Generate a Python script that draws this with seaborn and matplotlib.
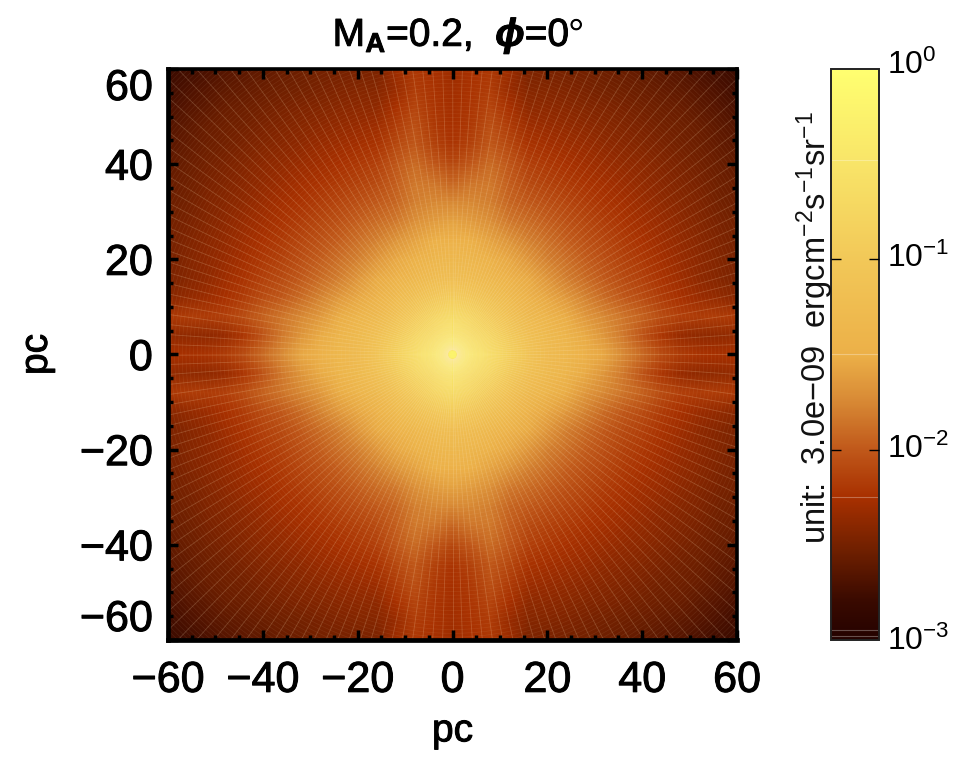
import numpy as np
import matplotlib
matplotlib.use('Agg')
import matplotlib.pyplot as plt
import matplotlib.patheffects as pe
from matplotlib.colors import LinearSegmentedColormap
from matplotlib.transforms import ScaledTranslation
import seaborn as sns

sns.set_theme(style='white')
plt.rcParams['font.family'] = ['Liberation Sans', 'DejaVu Sans']
plt.rcParams['mathtext.fontset'] = 'custom'
plt.rcParams['mathtext.rm'] = 'Liberation Sans'
plt.rcParams['mathtext.it'] = 'Liberation Sans:italic:bold'
plt.rcParams['mathtext.bf'] = 'Liberation Sans:bold'

# log10 of intensity, upper left quadrant, one row per y = 60, 56 ... 0, one column per x = -60, -56 ... 0
row_y60 = [-2.78, -2.75, -2.71, -2.66, -2.63, -2.60, -2.56, -2.54, -2.51, -2.50, -2.48, -2.47, -2.30, -2.20, -2.25, -2.30]
row_y56 = [-2.75, -2.70, -2.65, -2.61, -2.58, -2.55, -2.53, -2.51, -2.48, -2.45, -2.43, -2.42, -2.33, -2.17, -2.23, -2.28]
row_y52 = [-2.71, -2.65, -2.61, -2.56, -2.54, -2.51, -2.48, -2.45, -2.43, -2.40, -2.38, -2.37, -2.25, -2.12, -2.21, -2.27]
row_y48 = [-2.66, -2.61, -2.56, -2.53, -2.51, -2.47, -2.44, -2.41, -2.38, -2.35, -2.33, -2.30, -2.17, -2.05, -2.19, -2.25]
row_y44 = [-2.63, -2.58, -2.54, -2.51, -2.47, -2.43, -2.40, -2.37, -2.33, -2.30, -2.27, -2.23, -2.10, -2.00, -2.13, -2.22]
row_y40 = [-2.60, -2.55, -2.51, -2.47, -2.43, -2.39, -2.36, -2.32, -2.28, -2.24, -2.20, -2.15, -2.01, -1.90, -2.00, -2.10]
row_y36 = [-2.56, -2.53, -2.48, -2.44, -2.40, -2.36, -2.31, -2.27, -2.23, -2.19, -2.14, -2.09, -1.97, -1.83, -1.85, -1.93]
row_y32 = [-2.54, -2.51, -2.45, -2.41, -2.37, -2.32, -2.27, -2.23, -2.17, -2.12, -2.06, -2.00, -1.93, -1.80, -1.75, -1.75]
row_y28 = [-2.51, -2.48, -2.43, -2.38, -2.33, -2.28, -2.23, -2.17, -2.11, -2.05, -1.97, -1.90, -1.83, -1.71, -1.63, -1.59]
row_y24 = [-2.50, -2.45, -2.40, -2.35, -2.30, -2.24, -2.19, -2.12, -2.05, -1.97, -1.88, -1.79, -1.68, -1.58, -1.50, -1.45]
row_y20 = [-2.48, -2.43, -2.38, -2.33, -2.27, -2.20, -2.14, -2.06, -1.98, -1.88, -1.79, -1.66, -1.55, -1.46, -1.38, -1.34]
row_y16 = [-2.47, -2.42, -2.37, -2.30, -2.23, -2.15, -2.09, -2.00, -1.90, -1.80, -1.66, -1.53, -1.43, -1.34, -1.25, -1.20]
row_y12 = [-2.40, -2.35, -2.31, -2.25, -2.17, -2.08, -2.00, -1.90, -1.78, -1.65, -1.55, -1.43, -1.28, -1.15, -1.02, -0.92]
row_y08 = [-2.20, -2.17, -2.17, -2.15, -2.07, -1.95, -1.85, -1.75, -1.65, -1.52, -1.40, -1.29, -1.12, -0.95, -0.77, -0.65]
row_y04 = [-2.35, -2.37, -2.37, -2.33, -2.21, -2.03, -1.83, -1.67, -1.53, -1.40, -1.30, -1.17, -0.97, -0.75, -0.60, -0.45]
row_y00 = [-2.25, -2.25, -2.23, -2.17, -2.07, -1.90, -1.73, -1.55, -1.45, -1.34, -1.26, -1.09, -0.84, -0.60, -0.42, -0.18]

tick_values = [-60, -40, -20, 0, 20, 40, 60]
tick_labels = ['\u221260', '\u221240', '\u221220', '0', '20', '40', '60']
minor_values = [-55, -50, -45, -35, -30, -25, -15, -10, -5, 5, 10, 15, 25, 30, 35, 45, 50, 55]
cbar_exponents = [-3, -2, -1, 0]
cbar_streaks = [-2.98, -2.95, -2.25, -1.5, -0.48]

cmap_colors = ['#240200', '#3a0a00', '#702000', '#a83000', '#c0581a', '#d88a35',
               '#ecb048', '#f2c858', '#f8e468', '#ffff70']
cmap_levels = [0.0, 0.07, 0.158, 0.25, 0.333, 0.42, 0.5, 0.667, 0.833, 1.0]

quadrant = np.array([row_y60, row_y56, row_y52, row_y48, row_y44, row_y40, row_y36, row_y32,
                     row_y28, row_y24, row_y20, row_y16, row_y12, row_y08, row_y04, row_y00])
# picture is symmetric about both axes
top = np.hstack([quadrant, quadrant[:, -2::-1]])
field = np.vstack([top, top[-2::-1]])

step = 4
def pos(v):
    return (np.asarray(v) + 60) / step

cmap = LinearSegmentedColormap.from_list('heat', list(zip(cmap_levels, cmap_colors)), N=512)
stroke = [pe.withStroke(linewidth=0.7, foreground='black')]

fig = plt.figure(figsize=(9.69, 7.76), dpi=100)
ax = fig.add_axes([168 / 969, 1 - 640 / 776, 569 / 969, 571 / 776])
cax = fig.add_axes([831 / 969, 1 - 640 / 776, 48 / 969, 571 / 776])

sns.heatmap(field, ax=ax, cmap=cmap, vmin=-3, vmax=0, cbar=True, cbar_ax=cax,
            shading='gouraud', square=False, xticklabels=False, yticklabels=False)
ax.set_xlim(0, pos(60))
ax.set_ylim(pos(60), 0)
ax.set_axisbelow(False)

# the fine polar cell pattern of the original map
for angle in np.arange(0, 360, 2.0):
    a = np.radians(angle)
    ax.plot(pos(np.array([1, 90]) * np.cos(a)), pos(np.array([1, 90]) * np.sin(a)),
            color='#ffe9c0', lw=0.6, alpha=0.2, zorder=2)
theta = np.linspace(0, 2 * np.pi, 400)
for r in np.arange(1, 90, 0.8):
    ax.plot(pos(r * np.cos(theta)), pos(r * np.sin(theta)), color='#ffe9c0', lw=0.5, alpha=0.08, zorder=2)

for name, side in ax.spines.items():
    side.set_visible(True)
    side.set_color('black')
    side.set_linewidth(3.4 if name in ('left', 'bottom') else 2.6)
    side.set_zorder(5)
ax.set_xticks(pos(tick_values))
ax.set_xticklabels(tick_labels)
ax.set_yticks(pos(tick_values))
ax.set_yticklabels(tick_labels[::-1])
ax.set_xticks(pos(minor_values), minor=True)
ax.set_yticks(pos(minor_values), minor=True)
ax.tick_params(which='major', direction='in', length=7, width=2.5, color='black',
               top=True, right=True, bottom=True, left=True, labelsize=31, labelcolor='black')
ax.tick_params(which='minor', direction='in', length=3.6, width=2.5, color='black',
               top=True, right=True, bottom=True, left=True)
ax.tick_params(axis='x', which='major', pad=15)
ax.tick_params(axis='y', which='major', pad=11)
ylabels = ax.get_yticklabels()
ylabels[0].set_va('top')
ylabels[-1].set_va('bottom')
for label in ax.get_xticklabels() + ylabels:
    label.set_path_effects(stroke)

xlab = ax.set_xlabel('pc', fontsize=28, color='black', labelpad=9)
ylab = ax.set_ylabel('pc', fontsize=28, color='black', labelpad=18)
title = fig.text(458 / 969, 1 - 36 / 776, r'M$_{\mathrm{\mathbf{A}}}$=0.2,  $\phi$=0$^{\circ}$',
                 fontsize=28, color='black', ha='center', va='center')
for item in (xlab, ylab, title):
    item.set_path_effects(stroke)

cbar = ax.collections[0].colorbar
cbar.set_ticks(cbar_exponents)
cbar.set_ticklabels([f'10$^{{{e}}}$'.replace('-', '\u2212') for e in cbar_exponents])
cax.set_axisbelow(False)
cax.tick_params(direction='in', length=7, width=1, color='black', left=True, right=True,
                labelsize=23, labelcolor='black', pad=6)
# no tick marks at the two ends of the colour bar
for tick in (cax.yaxis.get_major_ticks()[0], cax.yaxis.get_major_ticks()[-1]):
    tick.tick1line.set_visible(False)
    tick.tick2line.set_visible(False)
cbar_labels = cax.get_yticklabels()
for label, shift in zip(cbar_labels, [2, 4, 4, 7]):
    label.set_transform(label.get_transform() + ScaledTranslation(0, shift / 100, fig.dpi_scale_trans))
cbar.outline.set_visible(True)
cbar.outline.set_edgecolor('#222222')
cbar.outline.set_linewidth(1.4)
for level in cbar_streaks:
    cax.axhline(level, color='white', lw=0.8, alpha=0.3)
fig.text(815 / 969, 1 - 328 / 776, 'unit:  3.0e\u221209  ergcm$^{\u22122}$s$^{\u22121}$sr$^{\u22121}$',
         fontsize=23.5, color='#111111', rotation=90, ha='center', va='center')

fig.savefig('out.png', dpi=100)
